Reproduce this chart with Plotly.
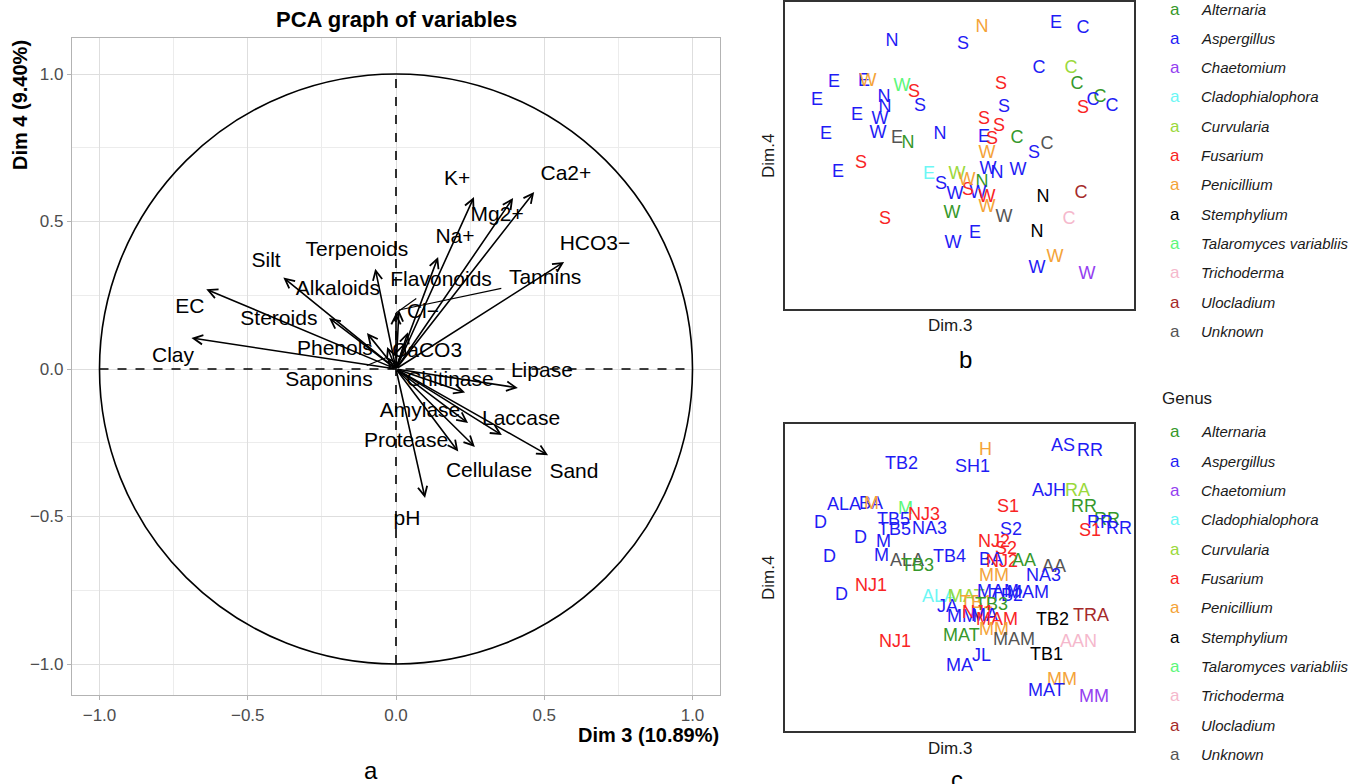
import plotly.graph_objects as go

W, H = 1349, 784
FONT = "Liberation Sans"

# ---------------- Panel a: PCA variables ----------------
var_names = ["Clay", "EC", "Silt", "Alkaloids", "Steroids", "Terpenoids", "Phenols",
             "Saponins", "Flavonoids", "Cl\u2212", "Tannins", "CaCO3", "K+", "Mg2+",
             "Ca2+", "Na+", "HCO3\u2212", "Lipase", "Chitinase", "Amylase", "Laccase",
             "Protease", "Cellulase", "Sand", "pH"]
var_dim3 = [-0.69, -0.64, -0.38, -0.226, -0.098, -0.07, -0.03,
            -0.03, 0.0, 0.04, 0.01, 0.03, 0.263, 0.395,
            0.466, 0.142, 0.567, 0.411, 0.233, 0.243, 0.357,
            0.21, 0.266, 0.513, 0.098]
var_dim4 = [0.105, 0.27, 0.31, 0.173, 0.122, 0.34, 0.075,
            0.04, 0.19, 0.125, 0.2, 0.09, 0.583, 0.58,
            0.60, 0.38, 0.363, -0.064, -0.08, -0.183, -0.224,
            -0.28, -0.264, -0.292, -0.437]
lab_dim3 = [-0.752, -0.695, -0.438, -0.196, -0.395, -0.132, -0.206,
            -0.226, 0.152, 0.091, 0.503, 0.105, 0.206, 0.341,
            0.573, 0.199, 0.671, 0.492, 0.182, 0.081, 0.422,
            0.034, 0.314, 0.600, 0.037]
lab_dim4 = [0.041, 0.207, 0.363, 0.268, 0.166, 0.40, 0.064,
            -0.041, 0.298, 0.19, 0.305, 0.058, 0.641, 0.519,
            0.658, 0.444, 0.42, -0.01, -0.041, -0.146, -0.173,
            -0.247, -0.349, -0.353, -0.512]
# labels pushed away by repel get a leader segment
leader_vars = ["Tannins", "Flavonoids", "Saponins"]
leader_frac = [0.70, 0.45, 0.35]

axis_ticks = [-1.0, -0.5, 0.0, 0.5, 1.0]
axis_ticktext = ["\u22121.0", "\u22120.5", "0.0", "0.5", "1.0"]

# ---------------- Panels b / c: individuals ----------------
ind_dim3 = [0.44, -1.36, 0.06, 1.92, 2.46, 1.58, 2.22, 2.34, 2.80, 2.66, 3.04, 2.46, 0.82,
            0.88, 0.48, 0.78, 0.48, 0.64, 1.14, 1.74, 1.48, 0.54, -2.52, -1.92, -1.84,
            -1.16, -0.92, -1.52, -1.50, -0.80, -2.86, -2.06, -1.60, -2.68, -1.64, -1.26,
            -1.04, -0.40, -1.98, -2.44, -1.50, -0.62, -0.38, -0.06, 0.14, 0.56, 0.74,
            1.16, 0.44, -0.10, 0.16, 0.36, 0.54, 0.54, -0.16, 0.88, 1.66, 2.42, 2.18,
            1.54, 0.30, -0.14, 1.90, 1.54, 2.54]
ind_dim4 = [2.56, 2.28, 2.22, 2.64, 2.54, 1.74, 1.74, 1.42, 1.16, 1.10, 0.98, 0.94, 1.42,
            0.96, 0.72, 0.58, 0.36, 0.32, 0.34, 0.22, 0.04, 0.04, 1.46, 1.48, 1.48,
            1.38, 1.26, 1.16, 0.96, 0.98, 1.10, 0.80, 0.72, 0.42, 0.44, 0.34,
            0.24, 0.42, -0.16, -0.34, -1.28, -0.38, -0.58, -0.38, -0.50, -0.28, -0.36,
            -0.30, -0.54, -0.78, -0.70, -0.76, -0.84, -1.04, -1.16, -1.24, -0.84, -0.76, -1.28,
            -1.54, -1.56, -1.76, -2.04, -2.26, -2.38]
ind_genus = ["Penicillium", "Aspergillus", "Aspergillus", "Aspergillus", "Aspergillus",
             "Aspergillus", "Curvularia", "Alternaria", "Alternaria", "Aspergillus",
             "Aspergillus", "Fusarium", "Fusarium", "Aspergillus", "Fusarium", "Fusarium",
             "Aspergillus", "Fusarium", "Alternaria", "Unknown", "Aspergillus", "Penicillium",
             "Aspergillus", "Aspergillus", "Penicillium", "Talaromyces variabliis", "Fusarium",
             "Aspergillus", "Aspergillus", "Aspergillus", "Aspergillus", "Aspergillus",
             "Aspergillus", "Aspergillus", "Aspergillus", "Unknown", "Alternaria",
             "Aspergillus", "Fusarium", "Aspergillus", "Fusarium", "Cladophialophora",
             "Aspergillus", "Curvularia", "Penicillium", "Aspergillus", "Aspergillus",
             "Aspergillus", "Alternaria", "Aspergillus", "Fusarium", "Aspergillus",
             "Fusarium", "Penicillium", "Alternaria", "Unknown", "Stemphylium",
             "Ulocladium", "Trichoderma", "Stemphylium", "Aspergillus", "Aspergillus",
             "Penicillium", "Aspergillus", "Chaetomium"]
ind_letter = ["N", "N", "S", "E", "C", "C", "C", "C", "C", "C", "C", "S", "S", "S", "S",
              "S", "E", "S", "C", "C", "S", "W", "E", "E", "W", "W", "S", "N", "N", "S",
              "E", "E", "W", "E", "W", "E", "N", "N", "S", "E", "S", "E", "S", "W", "W",
              "W", "N", "W", "N", "W", "S", "W", "W", "W", "W", "W", "N", "C", "C", "N",
              "E", "W", "W", "W", "W"]
ind_site = ["H", "TB2", "SH1", "AS", "RR", "AJH", "RA", "RR", "RR", "RR", "RR", "S1",
            "S1", "S2", "NJ2", "S2", "BA", "NJ2", "AA", "AA", "NA3", "MM", "ALA", "BA",
            "M", "M", "NJ3", "TB5", "TB5", "NA3", "D", "D", "M", "D", "M", "ALA", "TB3",
            "TB4", "NJ1", "D", "NJ1", "ALA", "JA", "MAT", "TB1", "MAM", "TB2", "MAM",
            "TB3", "MM", "NJ1", "MA", "MAM", "MM", "MAT", "MAM", "TB2", "TRA", "AAN",
            "TB1", "JL", "MA", "MM", "MAT", "MM"]

genus_levels = ["Alternaria", "Aspergillus", "Chaetomium", "Cladophialophora", "Curvularia",
                "Fusarium", "Penicillium", "Stemphylium", "Talaromyces variabliis",
                "Trichoderma", "Ulocladium", "Unknown"]
genus_colors = ["#36982b", "#1f1cf5", "#9440f0", "#6cf7f5", "#9bd93c", "#f92424",
                "#f4a338", "#000000", "#5cf77a", "#f5b8cc", "#a52a2a", "#555555"]
genus_color = dict(zip(genus_levels, genus_colors))


# ---------------- helpers for page layout (screen px -> paper) ----------------
def fx(p):
    return p / W


def fy(p):
    return 1 - p / H


fig = go.Figure()

# panel a labels
fig.add_trace(go.Scatter(
    x=lab_dim3, y=lab_dim4, text=var_names, mode="text",
    textfont=dict(family=FONT, size=21, color="black"),
    xaxis="x", yaxis="y", showlegend=False, hoverinfo="skip"))

# leader segments for repelled labels
for nm, fr in zip(leader_vars, leader_frac):
    i = var_names.index(nm)
    lx = var_dim3[i] + fr * (lab_dim3[i] - var_dim3[i])
    ly = var_dim4[i] + fr * (lab_dim4[i] - var_dim4[i])
    fig.add_trace(go.Scatter(
        x=[var_dim3[i], lx], y=[var_dim4[i], ly], mode="lines",
        line=dict(color="black", width=1.2), xaxis="x", yaxis="y",
        showlegend=False, hoverinfo="skip"))

annotations = []
for i, nm in enumerate(var_names):
    annotations.append(dict(
        x=var_dim3[i], y=var_dim4[i], ax=0, ay=0, xref="x", yref="y",
        axref="x", ayref="y", text="", showarrow=True, arrowhead=5,
        arrowsize=1.15, arrowwidth=1.6, arrowcolor="black", standoff=0))

# panel b: single-letter labels
for g, col in zip(genus_levels, genus_colors):
    idx = [i for i, gg in enumerate(ind_genus) if gg == g]
    if not idx:
        continue
    fig.add_trace(go.Scatter(
        x=[ind_dim3[i] for i in idx], y=[ind_dim4[i] for i in idx],
        text=[ind_letter[i] for i in idx], mode="text",
        textfont=dict(family=FONT, size=18, color=col),
        xaxis="x2", yaxis="y2", showlegend=False, hoverinfo="skip"))

# panel c: site codes (text sits slightly right of the point)
for i, lab in enumerate(ind_site):
    annotations.append(dict(
        x=ind_dim3[i], y=ind_dim4[i], xref="x3", yref="y3", text=lab, showarrow=False,
        xanchor="center", yanchor="middle", xshift=3.3 * len(lab),
        font=dict(family=FONT, size=18, color=genus_color[ind_genus[i]])))

# invisible trace so that panel c axes are drawn
fig.add_trace(go.Scatter(x=ind_dim3, y=ind_dim4, mode="markers",
                         marker=dict(size=1, opacity=0), xaxis="x3", yaxis="y3",
                         showlegend=False, hoverinfo="skip"))

shapes = [
    dict(type="circle", xref="x", yref="y", x0=-1, y0=-1, x1=1, y1=1,
         line=dict(color="black", width=1.6)),
    dict(type="line", xref="x", yref="y", x0=-1, y0=0, x1=1, y1=0,
         line=dict(color="black", width=1.6, dash="dash")),
    dict(type="line", xref="x", yref="y", x0=0, y0=-1, x1=0, y1=1,
         line=dict(color="black", width=1.6, dash="dash")),
]


def txt(text, x, y, size, color="#1a1a1a", xanchor="center", yanchor="middle", angle=0):
    return dict(text=text, x=fx(x), y=fy(y), xref="paper", yref="paper", showarrow=False,
                xanchor=xanchor, yanchor=yanchor, textangle=angle,
                font=dict(family=FONT, size=size, color=color))


annotations += [
    txt("<b>PCA graph of variables</b>", 396, 20, 22, "black"),
    txt("<b>Dim 3 (10.89%)</b>", 721, 735, 20, "black", xanchor="right"),
    txt("<b>Dim 4 (9.40%)</b>", 20, 38, 20, "black", yanchor="top", angle=-90),
    txt("a", 371, 770, 24, "black"),
    txt("b", 965, 360, 24, "black"),
    txt("c", 957, 779, 24, "black"),
    txt("Dim.3", 950, 325, 17),
    txt("Dim.3", 950, 748, 17),
    txt("Dim.4", 768, 156, 17, angle=-90),
    txt("Dim.4", 768, 578, 17, angle=-90),
    txt("Genus", 1160, 398, 17, xanchor="left"),
]

# legends (b: top, c: bottom)
for top in (9, 432):
    for k, (g, col) in enumerate(zip(genus_levels, genus_colors)):
        yy = top + k * 29.3
        annotations.append(txt("a", 1175, yy, 17, col))
        annotations.append(txt("<i>%s</i>" % g, 1199, yy, 15, xanchor="left"))

# axis ranges
xa_lo, xa_hi = (72 - 396) / 296.5, (720 - 396) / 296.5
ya_lo, ya_hi = (369 - 695) / 295.0, (369 - 38) / 295.0
xb_lo, xb_hi = -3.5, 3.48
yb_lo, yb_hi = -3.08, 3.06

panel_a_axis = dict(tickvals=axis_ticks, ticktext=axis_ticktext, showgrid=True,
                    gridcolor="#dedede", gridwidth=1.2,
                    minor=dict(dtick=0.25, tick0=0, showgrid=True, gridcolor="#ececec",
                               gridwidth=0.8),
                    zeroline=False, showline=True, mirror=True, linecolor="#b3b3b3",
                    linewidth=1.2, ticks="outside", ticklen=4, tickcolor="#b3b3b3",
                    tickfont=dict(family=FONT, size=17, color="#4d4d4d"))
panel_bc_axis = dict(showgrid=False, zeroline=False, showticklabels=False, ticks="",
                     showline=True, mirror=True, linecolor="#333333", linewidth=1.5)

fig.update_layout(
    width=W, height=H, margin=dict(l=0, r=0, t=0, b=0),
    paper_bgcolor="white", plot_bgcolor="white",
    xaxis=dict(domain=[fx(72), fx(720)], range=[xa_lo, xa_hi], anchor="y", **panel_a_axis),
    yaxis=dict(domain=[fy(695), fy(38)], range=[ya_lo, ya_hi], anchor="x", **panel_a_axis),
    xaxis2=dict(domain=[fx(785), fx(1134)], range=[xb_lo, xb_hi], anchor="y2", **panel_bc_axis),
    yaxis2=dict(domain=[fy(309), fy(2)], range=[yb_lo, yb_hi], anchor="x2", **panel_bc_axis),
    xaxis3=dict(domain=[fx(785), fx(1134)], range=[xb_lo, xb_hi], anchor="y3", **panel_bc_axis),
    yaxis3=dict(domain=[fy(731), fy(424)], range=[yb_lo, yb_hi], anchor="x3", **panel_bc_axis),
    shapes=shapes, annotations=annotations, showlegend=False,
)

# remove the default page margin so the figure fills the window exactly
fig.write_html("out.html", config={"displayModeBar": False},
               post_script="document.body.style.margin='0';document.body.style.overflow='hidden';")
